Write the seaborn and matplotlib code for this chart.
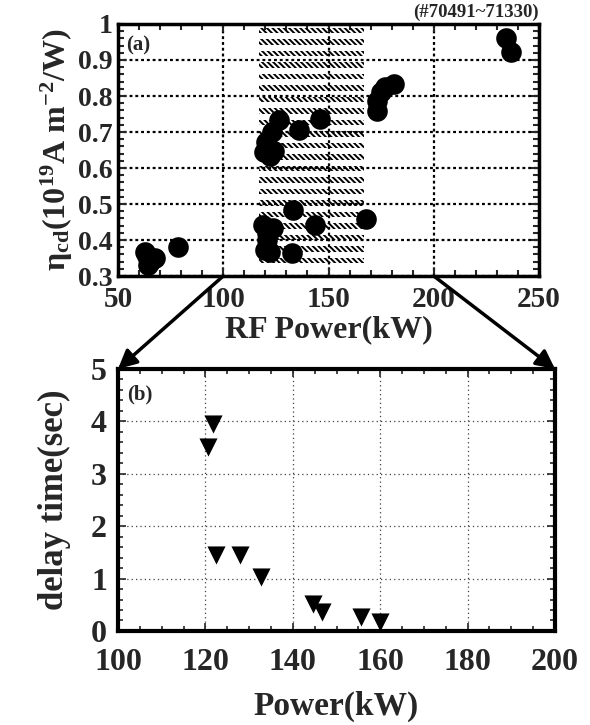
import numpy as np
import pandas as pd
import matplotlib
matplotlib.use("Agg")
import matplotlib.pyplot as plt
import seaborn as sns
from matplotlib.patches import ConnectionPatch
from matplotlib.ticker import MultipleLocator

# (a) current drive efficiency vs RF power
eff_power = [62.8, 64.3, 65.2, 67.6, 64.0,
             78.4,
             119.0, 120.6, 119.8, 123.8, 122.2, 121.0,
             133.3, 132.5, 143.6, 168.0,
             126.4, 135.9, 146.0,
             120.4, 123.1, 124.0, 119.5, 122.2, 121.4,
             173.2, 173.2, 175.0, 177.0, 181.2,
             234.3, 236.5]
eff_value = [0.367, 0.330, 0.339, 0.350, 0.355,
             0.381,
             0.442, 0.400, 0.372, 0.432, 0.368, 0.420,
             0.483, 0.363, 0.442, 0.458,
             0.732, 0.706, 0.737,
             0.671, 0.699, 0.648, 0.645, 0.634, 0.655,
             0.759, 0.787, 0.810, 0.824, 0.833,
             0.960, 0.923]

# shaded band in (a)
shade_power = [117, 167]
shade_eff = [0.32, 0.99]

# (b) delay time vs power
delay_power = [121.7, 120.5, 122.4, 127.9, 132.8, 144.7, 146.7, 155.7, 159.9]
delay_time = [3.95, 3.52, 1.45, 1.45, 1.03, 0.51, 0.36, 0.27, 0.17]

top_xticks = [50, 100, 150, 200, 250]
top_yticks = [0.3, 0.4, 0.5, 0.6, 0.7, 0.8, 0.9, 1.0]
top_yticklabels = ["0.3", "0.4", "0.5", "0.6", "0.7", "0.8", "0.9", "1"]
bot_xticks = [100, 120, 140, 160, 180, 200]
bot_yticks = [0, 1, 2, 3, 4, 5]

df_a = pd.DataFrame({"power": eff_power, "eta": eff_value})
df_b = pd.DataFrame({"power": delay_power, "delay": delay_time})

sns.set_style("ticks")
plt.rcParams["font.family"] = ["Liberation Serif", "DejaVu Serif"]
plt.rcParams["font.weight"] = "bold"
plt.rcParams["mathtext.fontset"] = "custom"
plt.rcParams["mathtext.rm"] = "Liberation Serif:bold"
plt.rcParams["mathtext.it"] = "Liberation Serif:bold"
plt.rcParams["mathtext.bf"] = "Liberation Serif:bold"
plt.rcParams["hatch.linewidth"] = 1.4

fig = plt.figure(figsize=(5.9, 7.25), dpi=100)
ax1 = fig.add_axes([0.2, 0.6193, 0.7136, 0.3476])
ax2 = fig.add_axes([0.2, 0.1297, 0.7407, 0.3614])

# ---- panel (a)
rows = np.arange(shade_eff[1], shade_eff[0], -0.032)
for r in rows:
    ax1.fill_between(shade_power, r - 0.015, r, facecolor="none", edgecolor="black",
                     hatch="\\\\\\\\\\\\", linewidth=0, zorder=1)

sns.scatterplot(data=df_a, x="power", y="eta", ax=ax1, color="black", s=220,
                edgecolor="black", linewidth=0, zorder=3)

ax1.set_xlim(top_xticks[0], top_xticks[-1])
ax1.set_ylim(top_yticks[0], top_yticks[-1])
ax1.set_xticks(top_xticks)
ax1.set_yticks(top_yticks)
ax1.set_yticklabels(top_yticklabels)
ax1.xaxis.set_minor_locator(MultipleLocator(10))
ax1.yaxis.set_minor_locator(MultipleLocator(0.02))
ax1.grid(True, which="major", color="black", linestyle=(0, (1.3, 1.3)), linewidth=1.6, zorder=0)
ax1.set_axisbelow(True)
ax1.tick_params(which="both", direction="in", top=True, right=True, width=1.5)
ax1.tick_params(which="major", length=6)
ax1.tick_params(which="minor", length=4)
ax1.tick_params(axis="x", labelsize=21, pad=7)
ax1.tick_params(axis="y", labelsize=20, pad=4)
ax1.set_xlabel("RF Power(kW)", fontsize=23, fontweight="bold", labelpad=2)
ax1.set_ylabel(r"$\eta_{cd}$(10$^{19}$A m$^{-2}$/W)", fontsize=23, fontweight="bold", labelpad=2)
for sp in ax1.spines.values():
    sp.set_linewidth(2.5)
    sp.set_color("black")
ax1.text(0.02, 0.955, "(a)", transform=ax1.transAxes, ha="left", va="top",
         fontsize=15, fontweight="bold")
fig.text(0.9136, 0.9834, "(#70491~71330)", ha="right", va="center",
         fontsize=13.5, fontweight="bold")

# ---- panel (b)
sns.scatterplot(data=df_b, x="power", y="delay", ax=ax2, color="black", marker="v",
                s=170, edgecolor="black", linewidth=0, zorder=3)
ax2.set_xlim(bot_xticks[0], bot_xticks[-1])
ax2.set_ylim(bot_yticks[0], bot_yticks[-1])
ax2.set_xticks(bot_xticks)
ax2.set_yticks(bot_yticks)
ax2.xaxis.set_minor_locator(MultipleLocator(5))
ax2.yaxis.set_minor_locator(MultipleLocator(0.2))
ax2.grid(True, which="major", color="0.25", linestyle=(0, (1, 2.5)), linewidth=0.9, zorder=0)
ax2.set_axisbelow(True)
ax2.tick_params(which="both", direction="in", top=True, right=True, width=1.2)
ax2.tick_params(which="major", length=6)
ax2.tick_params(which="minor", length=3.5)
ax2.tick_params(axis="x", labelsize=23, pad=12)
ax2.tick_params(axis="y", labelsize=23, pad=8)
ax2.set_xlabel("Power(kW)", fontsize=24, fontweight="bold", labelpad=10)
ax2.set_ylabel("delay time(sec)", fontsize=25, fontweight="bold", labelpad=14)
for sp in ax2.spines.values():
    sp.set_linewidth(3)
    sp.set_color("black")
ax2.text(0.02, 0.94, "(b)", transform=ax2.transAxes, ha="left", va="top",
         fontsize=15, fontweight="bold")

# zoom arrows from (a) to (b)
lo, hi = ax2.get_xlim()
for xa, xb in [(lo, 0.0), (hi, 1.0)]:
    con = ConnectionPatch(xyA=(xa, top_yticks[0]), coordsA=ax1.transData,
                          xyB=(xb, 1.0), coordsB=ax2.transAxes,
                          arrowstyle="-|>", mutation_scale=28, linewidth=2.5,
                          color="black", zorder=5)
    fig.add_artist(con)

fig.savefig("out.png", dpi=100)
